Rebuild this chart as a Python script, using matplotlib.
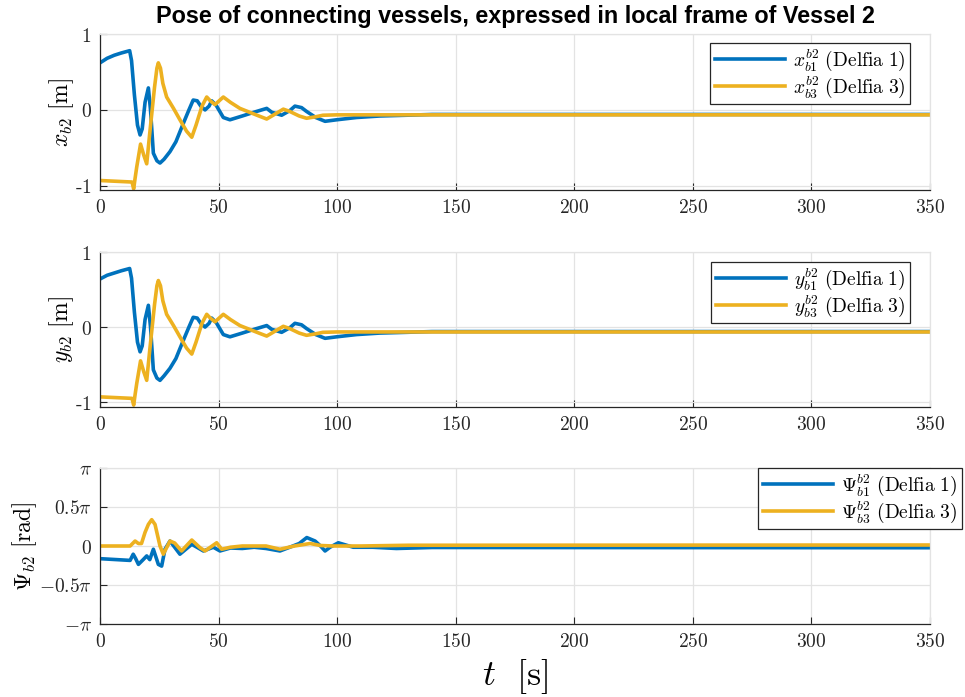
import numpy as np
import matplotlib
matplotlib.use("Agg")
import matplotlib.pyplot as plt

plt.rcParams["mathtext.fontset"] = "cm"
plt.rcParams["font.family"] = ["DejaVu Sans"]

# ---- data -------------------------------------------------------------
t_x_b1 = [0, 3, 6, 9, 12.5, 13.3, 14.5, 15.8, 16.9, 17.8, 19, 20.4, 21.3,
          22.5, 24, 25.3, 27, 29.5, 32, 35.1, 37.5, 39.3, 41, 42.5, 44.3, 46,
          47.1, 49, 52, 54.8, 60, 65, 70.3, 72.4, 76.6, 80, 82.2, 85, 87.1,
          91, 94.9, 99.8, 108.2, 118, 129.3, 140, 350]
x_b1 = [0.62, 0.68, 0.72, 0.75, 0.78, 0.65, 0.2, -0.2, -0.33, -0.25, 0.1,
        0.29, 0.0, -0.57, -0.67, -0.70, -0.65, -0.55, -0.42, -0.18, 0.0, 0.13,
        0.12, 0.05, 0.0, 0.05, 0.12, 0.06, -0.10, -0.13, -0.08, -0.03, 0.02,
        -0.03, -0.07, -0.01, 0.05, 0.03, -0.02, -0.10, -0.15, -0.13, -0.10,
        -0.08, -0.07, -0.06, -0.06]

t_x_b3 = [0, 13.5, 14.2, 14.8, 15.5, 17.1, 18.5, 19.7, 21, 23, 24, 24.6, 25.5,
          26.5, 28.1, 31, 33.7, 36.5, 38.7, 40.5, 43, 45, 46.5, 48.5, 52, 55,
          59, 63, 67, 70.3, 73, 77.3, 80, 84, 87.1, 91, 94, 100, 350]
x_b3 = [-0.93, -0.95, -1.04, -0.9, -0.75, -0.45, -0.6, -0.71, -0.3, 0.3,
        0.55, 0.62, 0.55, 0.35, 0.17, 0.02, -0.13, -0.28, -0.36, -0.2, 0.05,
        0.17, 0.12, 0.07, 0.17, 0.1, 0.02, -0.03, -0.08, -0.12, -0.07, 0.01,
        -0.02, -0.08, -0.11, -0.09, -0.07, -0.065, -0.065]

t_y_b1 = list(t_x_b1)
y_b1 = [0.64, 0.69, 0.72, 0.75, 0.78, 0.65, 0.2, -0.2, -0.33, -0.25, 0.1,
        0.29, 0.0, -0.57, -0.68, -0.71, -0.65, -0.55, -0.42, -0.18, 0.0, 0.13,
        0.12, 0.05, 0.0, 0.05, 0.12, 0.06, -0.10, -0.13, -0.08, -0.03, 0.02,
        -0.03, -0.07, -0.01, 0.05, 0.03, -0.02, -0.10, -0.15, -0.13, -0.10,
        -0.08, -0.07, -0.06, -0.06]

t_y_b3 = list(t_x_b3)
y_b3 = [-0.93, -0.95, -1.04, -0.9, -0.75, -0.45, -0.6, -0.71, -0.3, 0.3,
        0.55, 0.62, 0.55, 0.35, 0.17, 0.02, -0.13, -0.28, -0.36, -0.2, 0.05,
        0.17, 0.12, 0.07, 0.17, 0.1, 0.02, -0.03, -0.08, -0.12, -0.07, 0.01,
        -0.02, -0.08, -0.11, -0.09, -0.07, -0.065, -0.065]

t_psi_b1 = [0, 12.7, 14, 15, 16.2, 18.3, 19.7, 21, 22.5, 24.6, 26, 27.4, 29.5,
            33.7, 38.7, 43.6, 47.8, 50.6, 55, 60, 65, 70, 75.9, 80, 84, 87.2,
            90.7, 93, 94.9, 97, 100.5, 106.8, 115, 125, 140, 350]
psi_b1 = [-0.51, -0.58, -0.33, -0.5, -0.74, -0.54, -0.4, -0.55, -0.13, -0.74,
          -0.81, -0.13, 0.2, -0.33, 0.07, -0.2, -0.05, -0.2, -0.08, -0.1,
          -0.05, -0.1, -0.2, -0.05, 0.1, 0.34, 0.2, 0.0, -0.2, -0.05, 0.13,
          -0.05, -0.05, -0.1, -0.06, -0.07]

t_psi_b3 = [0, 12.7, 14.8, 16.2, 17.5, 19, 20.4, 21.8, 23.2, 25.3, 26.7, 29.5,
            31.5, 34.4, 38.7, 42.2, 44.3, 49.2, 51.3, 55, 60, 70, 75.9, 82,
            88.6, 93, 98.4, 110, 130, 350]
psi_b3 = [0.0, 0.0, 0.2, 0.1, 0.1, 0.55, 0.87, 1.06, 0.87, 0.0, -0.33, 0.2,
          0.12, -0.2, 0.24, -0.07, -0.2, 0.13, -0.13, -0.05, 0.0, 0.0, -0.13,
          0.0, 0.1, 0.02, 0.0, 0.0, 0.03, 0.04]

x_ticks = [0, 50, 100, 150, 200, 250, 300, 350]
pos_ticks = [-1, 0, 1]
pos_tick_labels = [r"$\text{-}1$", r"$0$", r"$1$"]
psi_ticks = [-np.pi, -0.5 * np.pi, 0, 0.5 * np.pi, np.pi]
psi_tick_labels = [r"$-\pi$", r"$-0.5\pi$", r"$0$", r"$0.5\pi$", r"$\pi$"]

BLUE = "#0072BD"
YELLOW = "#EDB120"
W, H = 965, 697

fig = plt.figure(figsize=(W / 100, H / 100), dpi=100)


def px_axes(top, bottom, left=100, right=930):
    return fig.add_axes([left / W, 1 - bottom / H, (right - left) / W,
                         (bottom - top) / H])


def style(ax, yticks, ylabels, ylim):
    ax.set_xlim(0, 350)
    ax.set_ylim(*ylim)
    ax.set_xticks(x_ticks)
    ax.set_xticklabels([rf"${v}$" for v in x_ticks])
    ax.set_yticks(yticks)
    ax.set_yticklabels(ylabels)
    ax.grid(True, color="#e3e3e3", linewidth=0.9)
    ax.set_axisbelow(True)
    ax.tick_params(direction="in", length=5, width=0.8, color="#262626",
                   labelsize=14, pad=6, labelcolor="#262626")
    for s in ("left", "bottom"):
        ax.spines[s].set_color("#262626")
        ax.spines[s].set_linewidth(0.9)
    for s in ("top", "right"):
        ax.spines[s].set_color("#e3e3e3")
        ax.spines[s].set_linewidth(0.9)


def legend(ax, labels, anchor_px):
    lg = ax.legend(labels, loc="upper right",
                   bbox_to_anchor=(anchor_px[0] / W, 1 - anchor_px[1] / H),
                   bbox_transform=fig.transFigure, fontsize=14,
                   handlelength=3.6, handletextpad=0.4, borderpad=0.25,
                   labelspacing=0.05, borderaxespad=0, fancybox=False,
                   framealpha=1, edgecolor="#262626")
    lg.get_frame().set_linewidth(0.9)
    return lg


lw = 2.6
label_size = 17

ax1 = px_axes(34, 190)
ax1.plot(t_x_b1, x_b1, color=BLUE, lw=lw)
ax1.plot(t_x_b3, x_b3, color=YELLOW, lw=lw)
style(ax1, pos_ticks, pos_tick_labels, (-1.055, 1))
ax1.set_ylabel(r"$x_{b2}\ [\mathrm{m}]$", fontsize=label_size)
ax1.yaxis.set_label_coords(-0.029, 0.5)
legend(ax1, [r"$x_{b1}^{b2}\ \mathrm{(Delfia\ 1)}$",
             r"$x_{b3}^{b2}\ \mathrm{(Delfia\ 3)}$"], (910, 43))
ax1.set_title("Pose of connecting vessels, expressed in local frame of Vessel 2",
              fontsize=16.8, fontweight="bold", family="Liberation Sans",
              pad=8)

ax2 = px_axes(252, 407)
ax2.plot(t_y_b1, y_b1, color=BLUE, lw=lw)
ax2.plot(t_y_b3, y_b3, color=YELLOW, lw=lw)
style(ax2, pos_ticks, pos_tick_labels, (-1.065, 1))
ax2.set_ylabel(r"$y_{b2}\ [\mathrm{m}]$", fontsize=label_size)
ax2.yaxis.set_label_coords(-0.029, 0.5)
legend(ax2, [r"$y_{b1}^{b2}\ \mathrm{(Delfia\ 1)}$",
             r"$y_{b3}^{b2}\ \mathrm{(Delfia\ 3)}$"], (910, 262))

ax3 = px_axes(468, 624)
ax3.plot(t_psi_b1, psi_b1, color=BLUE, lw=lw)
ax3.plot(t_psi_b3, psi_b3, color=YELLOW, lw=lw)
style(ax3, psi_ticks, psi_tick_labels, (-np.pi, np.pi))
ax3.set_ylabel(r"$\Psi_{b2}\ [\mathrm{rad}]$", fontsize=label_size)
ax3.yaxis.set_label_coords(-0.074, 0.5)
legend(ax3, [r"$\Psi_{b1}^{b2}\ \mathrm{(Delfia\ 1)}$",
             r"$\Psi_{b3}^{b2}\ \mathrm{(Delfia\ 3)}$"], (962, 468))
ax3.set_xlabel(r"$t\ \ [\mathrm{s}]$", fontsize=26)
ax3.xaxis.set_label_coords(0.5, (624 - 657) / 156)

fig.savefig("out.png", dpi=100)
